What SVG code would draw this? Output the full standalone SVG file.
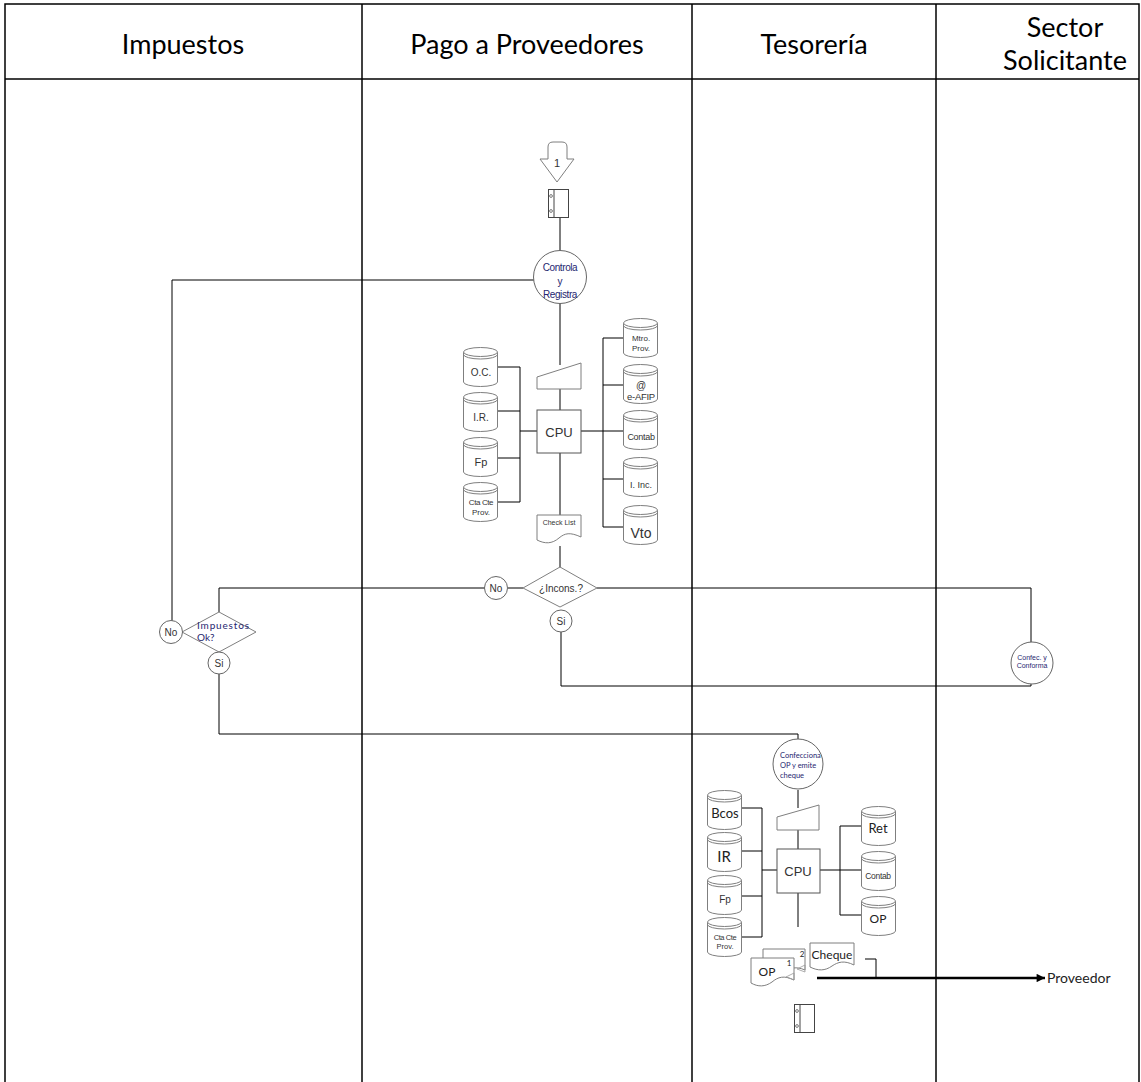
<svg xmlns="http://www.w3.org/2000/svg" xmlns:xlink="http://www.w3.org/1999/xlink" width="1141" height="1082" viewBox="0 0 1141 1082">
<style>
.grid{stroke:#000;stroke-width:1.5;fill:none}
.conn{stroke:#000;stroke-width:1;fill:none}
.thick{stroke:#000;stroke-width:2.4;fill:none}
.shp{fill:#fff;stroke:#7f7f7f;stroke-width:1}
.box{fill:#fff;stroke:#555;stroke-width:1}
.circ{fill:#fff;stroke:#666;stroke-width:1}
.hdr{font-family:Lato,"Open Sans",sans-serif;font-size:27px;fill:#000;text-anchor:middle}
.ar{font-family:"Liberation Sans",Arial,sans-serif;fill:#333;text-anchor:middle}
.cal{font-family:Lato,"Open Sans",sans-serif;fill:#222;text-anchor:middle}
.navy{fill:#262670}
.st{text-anchor:start}
</style>
<defs>
<symbol id="db" viewBox="0 0 35 40" width="35" height="40" overflow="visible">
<path d="M0.5,5 V35 A17,4.5 0 0 0 34.5,35 V5" fill="#fff" stroke="#7f7f7f"/>
<ellipse cx="17.5" cy="5" rx="17" ry="4.5" fill="#fff" stroke="#7f7f7f"/>
<path d="M0.5,7.5 A17,4.5 0 0 0 34.5,7.5" fill="none" stroke="#7f7f7f"/>
</symbol>
<symbol id="file" viewBox="0 0 21 29" width="21" height="29" overflow="visible">
<rect x="0.5" y="0.5" width="20" height="28" fill="#fff" stroke="#444"/>
<line x1="6" y1="0.5" x2="6" y2="28.5" stroke="#444"/>
<circle cx="3" cy="7" r="1.4" fill="none" stroke="#444" stroke-width="0.7"/>
<circle cx="3" cy="22" r="1.4" fill="none" stroke="#444" stroke-width="0.7"/>
</symbol>
<marker id="arr" viewBox="0 0 10 10" refX="10" refY="5" markerWidth="4" markerHeight="3.5" orient="auto" markerUnits="strokeWidth">
<path d="M0,0 L10,5 L0,10 Z" fill="#000"/>
</marker>
</defs>

<g id="table">
<rect x="5" y="4" width="1134" height="1090" class="grid"/>
<line x1="5" y1="79" x2="1139" y2="79" class="grid"/>
<line x1="362" y1="4" x2="362" y2="1082" class="grid"/>
<line x1="692" y1="4" x2="692" y2="1082" class="grid"/>
<line x1="936" y1="4" x2="936" y2="1082" class="grid"/>
<text class="hdr" x="183" y="54">Impuestos</text>
<text class="hdr" x="527" y="54">Pago a Proveedores</text>
<text class="hdr" x="814" y="54">Tesorería</text>
<text class="hdr" x="1065" y="37">Sector</text>
<text class="hdr" x="1065" y="70">Solicitante</text>
</g>

<g id="connectors">
<line x1="560" y1="218" x2="560" y2="251" class="conn"/>
<polyline points="534,280 172,280 172,621" class="conn"/>
<line x1="560" y1="303" x2="560" y2="365" class="conn"/>
<line x1="560" y1="389" x2="560" y2="410" class="conn"/>
<line x1="560" y1="453" x2="560" y2="515" class="conn"/>
<line x1="560" y1="546" x2="560" y2="568" class="conn"/>
<line x1="498" y1="367" x2="520" y2="367" class="conn"/>
<line x1="498" y1="411" x2="520" y2="411" class="conn"/>
<line x1="498" y1="458" x2="520" y2="458" class="conn"/>
<line x1="498" y1="502" x2="520" y2="502" class="conn"/>
<line x1="520" y1="367" x2="520" y2="502" class="conn"/>
<line x1="520" y1="431" x2="537" y2="431" class="conn"/>
<line x1="581" y1="431" x2="623" y2="431" class="conn"/>
<line x1="603" y1="338" x2="603" y2="527" class="conn"/>
<line x1="603" y1="338" x2="623" y2="338" class="conn"/>
<line x1="603" y1="385" x2="623" y2="385" class="conn"/>
<line x1="603" y1="479" x2="623" y2="479" class="conn"/>
<line x1="603" y1="527" x2="623" y2="527" class="conn"/>
<line x1="508" y1="588" x2="523" y2="588" class="conn"/>
<polyline points="485,588 219,588 219,612" class="conn"/>
<polyline points="597,588 1031,588 1031,642" class="conn"/>
<polyline points="561,632 561,686 1031,686 1031,684" class="conn"/>
<polyline points="219,674 219,734 798,734 798,739" class="conn"/>
<line x1="798" y1="790" x2="798" y2="808" class="conn"/>
<line x1="798" y1="830" x2="798" y2="849" class="conn"/>
<line x1="798" y1="893" x2="798" y2="927" class="conn"/>
<line x1="742" y1="808" x2="762" y2="808" class="conn"/>
<line x1="742" y1="851" x2="762" y2="851" class="conn"/>
<line x1="742" y1="896" x2="762" y2="896" class="conn"/>
<line x1="742" y1="937" x2="762" y2="937" class="conn"/>
<line x1="762" y1="808" x2="762" y2="937" class="conn"/>
<line x1="762" y1="870" x2="777" y2="870" class="conn"/>
<line x1="820" y1="870" x2="861" y2="870" class="conn"/>
<line x1="840" y1="826" x2="840" y2="915" class="conn"/>
<line x1="840" y1="826" x2="861" y2="826" class="conn"/>
<line x1="840" y1="915" x2="861" y2="915" class="conn"/>
<polyline points="865,959 876,959 876,978" class="conn"/>
<line x1="817" y1="978" x2="1045" y2="978" class="thick" marker-end="url(#arr)"/>
</g>

<g id="offpage-1">
<path d="M548,147 Q548,142 553,142 H562 Q567,142 567,147 V159 H574 L557,182 L540,159 H548 Z" class="shp"/>
<text class="ar" x="557" y="167" font-size="11" fill="#000">1</text>
</g>
<g id="file-top"><use xlink:href="#file" x="548" y="189"/></g>

<g id="controla">
<circle cx="560" cy="277" r="26.5" class="circ"/>
<text class="ar navy" x="560" y="271" font-size="10" letter-spacing="-0.4">Controla</text>
<text class="ar navy" x="560" y="284.5" font-size="10">y</text>
<text class="ar navy" x="560" y="298" font-size="10" letter-spacing="-0.4">Registra</text>
</g>

<g id="manual-1"><polygon points="537,377 581,363 581,389 537,389" class="shp"/></g>
<g id="cpu-1">
<rect x="537" y="410" width="44" height="43" class="box"/>
<text class="ar" x="559" y="437" font-size="13" fill="#000">CPU</text>
</g>
<g id="checklist">
<path d="M537,515 H581 V537 C570,532 565,533 559,538 C552,544 545,544 537,540 Z" class="shp"/>
<text class="ar" x="559" y="525" font-size="7" fill="#333">Check List</text>
</g>

<g id="db-oc"><use xlink:href="#db" x="463" y="347"/><text class="ar" x="481" y="376" font-size="10">O.C.</text></g>
<g id="db-ir"><use xlink:href="#db" x="463" y="392"/><text class="ar" x="481" y="421" font-size="10">I.R.</text></g>
<g id="db-fp"><use xlink:href="#db" x="463" y="437"/><text class="ar" x="481" y="466" font-size="11">Fp</text></g>
<g id="db-ctacte"><use xlink:href="#db" x="463" y="482"/><text class="ar" x="481" y="505" font-size="8" letter-spacing="-0.4">Cta Cte</text><text class="ar" x="481" y="515" font-size="8">Prov.</text></g>

<g id="db-mtro"><use xlink:href="#db" x="623" y="318"/><text class="ar" x="641" y="341" font-size="8">Mtro.</text><text class="ar" x="641" y="351" font-size="8">Prov.</text></g>
<g id="db-eafip"><use xlink:href="#db" x="623" y="364"/><text class="ar" x="641" y="389" font-size="10">@</text><text class="ar" x="641" y="400" font-size="9.5" letter-spacing="-0.3">e-AFIP</text></g>
<g id="db-contab"><use xlink:href="#db" x="623" y="410"/><text class="ar" x="641" y="440" font-size="9" letter-spacing="-0.3">Contab</text></g>
<g id="db-iinc"><use xlink:href="#db" x="623" y="457"/><text class="ar" x="641" y="488" font-size="9">I. Inc.</text></g>
<g id="db-vto"><use xlink:href="#db" x="623" y="505"/><text class="ar" x="641" y="538" font-size="14" fill="#111">Vto</text></g>

<g id="incons">
<polygon points="523,588 560,567 597,588 560,607" class="shp"/>
<text class="ar" x="561" y="592" font-size="10" fill="#222">¿Incons.?</text>
</g>
<g id="no-1"><circle cx="496" cy="588" r="11.5" class="circ"/><text class="ar" x="496" y="592" font-size="10" fill="#222">No</text></g>
<g id="si-1"><circle cx="561" cy="621" r="11" class="circ"/><text class="ar" x="561" y="625" font-size="10" fill="#222">Si</text></g>

<g id="impuestos-ok">
<polygon points="182,632 219,612 256,632 219,652" class="shp"/>
<text class="cal navy st" x="197" y="629" font-size="10" textLength="52">Impuestos</text>
<text class="cal navy st" x="197" y="641" font-size="10">Ok?</text>
</g>
<g id="no-2"><circle cx="171" cy="632" r="11.5" class="circ"/><text class="ar" x="171" y="636" font-size="10" fill="#222">No</text></g>
<g id="si-2"><circle cx="219" cy="663" r="11" class="circ"/><text class="ar" x="219" y="667" font-size="10" fill="#222">Si</text></g>

<g id="confec-conforma">
<circle cx="1032" cy="663" r="21" class="circ"/>
<text class="ar navy" x="1032" y="659.5" font-size="7">Confec. y</text>
<text class="ar navy" x="1032" y="668" font-size="7">Conforma</text>
</g>

<g id="confecciona">
<circle cx="798" cy="764" r="25" class="circ"/>
<text class="cal navy st" x="780" y="757.5" font-size="7.5">Confecciona</text>
<text class="cal navy st" x="780" y="767.5" font-size="7.5">OP y emite</text>
<text class="cal navy st" x="780" y="777.5" font-size="7.5">cheque</text>
</g>

<g id="manual-2"><polygon points="777,817 819,805 819,830 777,830" class="shp"/></g>
<g id="cpu-2">
<rect x="777" y="849" width="43" height="44" class="box"/>
<text class="ar" x="798" y="876" font-size="13" fill="#000">CPU</text>
</g>

<g id="db-bcos"><use xlink:href="#db" x="707" y="790"/><text class="cal" x="725" y="818" font-size="13">Bcos</text></g>
<g id="db-ir2"><use xlink:href="#db" x="707" y="832"/><text class="cal" x="724" y="862" font-size="15">IR</text></g>
<g id="db-fp2"><use xlink:href="#db" x="707" y="875"/><text class="ar" x="725" y="903" font-size="10">Fp</text></g>
<g id="db-ctacte2"><use xlink:href="#db" x="707" y="917"/><text class="ar" x="725" y="940" font-size="7.5" letter-spacing="-0.4">Cta Cte</text><text class="ar" x="725" y="948.5" font-size="7.5">Prov.</text></g>

<g id="db-ret"><use xlink:href="#db" x="861" y="806"/><text class="cal" x="878" y="833" font-size="13">Ret</text></g>
<g id="db-contab2"><use xlink:href="#db" x="861" y="851"/><text class="ar" x="878" y="879" font-size="8.5" letter-spacing="-0.3">Contab</text></g>
<g id="db-op"><use xlink:href="#db" x="861" y="896"/><text class="cal" x="878" y="923" font-size="12">OP</text></g>

<g id="doc-op">
<path d="M763,949 H805 V970 C796,966 790,968 785,972 L763,972 Z" class="shp"/>
<text class="cal" x="802" y="957" font-size="8">2</text>
<path d="M751,958 H794 V980 C784,975 778,977 772,982 C765,987 758,987 751,983 Z" class="shp"/>
<text class="cal" x="767" y="976" font-size="12">OP</text>
<text class="cal" x="789" y="966" font-size="8">1</text>
<polygon points="786,977 794,973 794,980" fill="none" stroke="#999" stroke-width="0.8"/>
<polygon points="797,969 805,965 805,972" fill="none" stroke="#999" stroke-width="0.8"/>
</g>
<g id="doc-cheque">
<path d="M810,943 H854 V965 C844,960 838,962 832,966 C825,971 818,971 810,967 Z" class="shp"/>
<text class="cal" x="832" y="959" font-size="12">Cheque</text>
</g>
<g id="proveedor"><text class="cal st" x="1047" y="983" font-size="14" fill="#000">Proveedor</text></g>
<g id="file-bottom"><use xlink:href="#file" x="794" y="1004"/></g>
</svg>
